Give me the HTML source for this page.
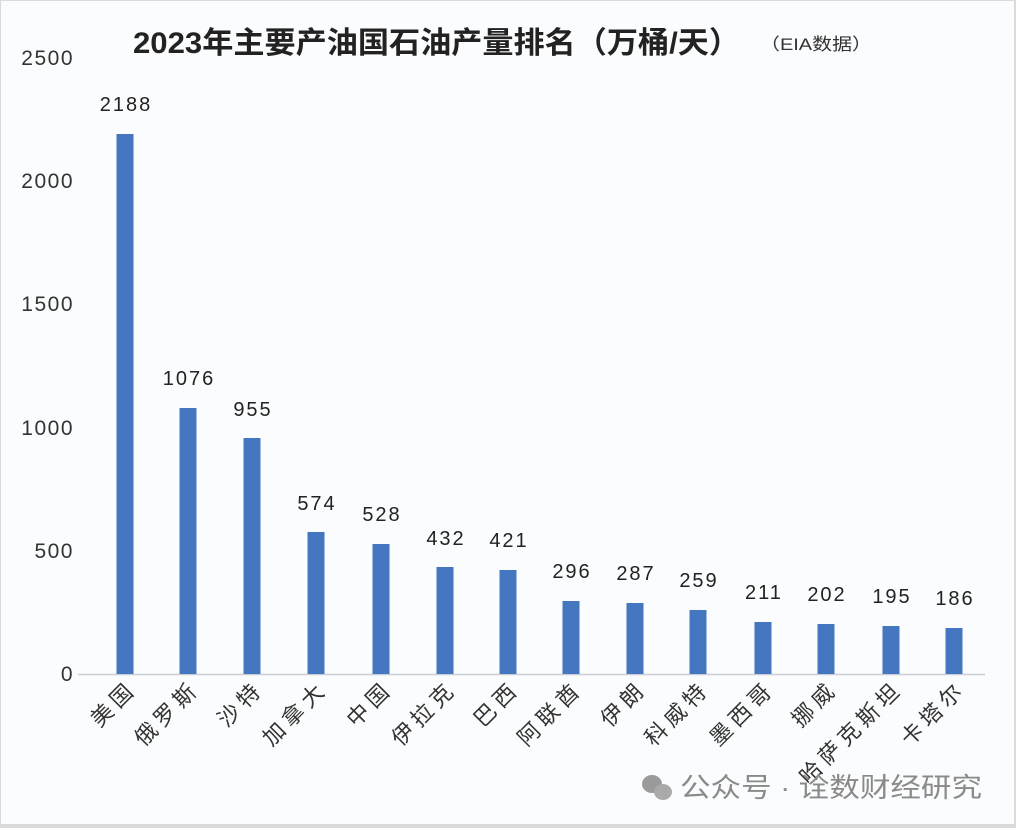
<!DOCTYPE html>
<html><head><meta charset="utf-8"><style>
html,body{margin:0;padding:0;background:#fff}
svg{display:block}
text{font-family:"Liberation Sans","Noto Sans CJK SC",sans-serif}
</style></head><body>
<svg width="1016" height="828" viewBox="0 0 1016 828" xmlns="http://www.w3.org/2000/svg">
<rect x="0" y="0" width="1016" height="828" fill="#d8dadc"/>
<rect x="1" y="1" width="1013" height="823" fill="#fbfcfd"/>
<text x="133" y="53" font-size="30" font-weight="bold" fill="#222" textLength="607" lengthAdjust="spacingAndGlyphs">2023年主要产油国石油产量排名（万桶/天）</text>
<text x="760" y="50" font-size="17" fill="#333" textLength="112" lengthAdjust="spacingAndGlyphs">（EIA数据）</text>
<g font-size="21" fill="#333" text-anchor="end" letter-spacing="1.5">
<text x="74" y="65">2500</text>
<text x="74" y="188">2000</text>
<text x="74" y="311">1500</text>
<text x="74" y="435">1000</text>
<text x="74" y="558">500</text>
<text x="74" y="681">0</text>
</g>
<line x1="78" y1="674.5" x2="985" y2="674.5" stroke="#c9ced6" stroke-width="1.5"/>
<g fill="#4576c0">
<rect x="116.5" y="134" width="17" height="540"/>
<rect x="179.5" y="408" width="17" height="266"/>
<rect x="243.5" y="438" width="17" height="236"/>
<rect x="307.5" y="532" width="17" height="142"/>
<rect x="372.5" y="544" width="17" height="130"/>
<rect x="436.5" y="567" width="17" height="107"/>
<rect x="499.5" y="570" width="17" height="104"/>
<rect x="562.5" y="601" width="17" height="73"/>
<rect x="626.5" y="603" width="17" height="71"/>
<rect x="689.5" y="610" width="17" height="64"/>
<rect x="754.5" y="622" width="17" height="52"/>
<rect x="817.5" y="624" width="17" height="50"/>
<rect x="882.5" y="626" width="17" height="48"/>
<rect x="945.5" y="628" width="17" height="46"/>
</g>
<g font-size="20" fill="#222" text-anchor="middle" letter-spacing="2">
<text x="126" y="111">2188</text>
<text x="189" y="385">1076</text>
<text x="253" y="416">955</text>
<text x="317" y="510">574</text>
<text x="382" y="521">528</text>
<text x="446" y="545">432</text>
<text x="509" y="547">421</text>
<text x="572" y="578">296</text>
<text x="636" y="580">287</text>
<text x="699" y="587">259</text>
<text x="764" y="599">211</text>
<text x="827" y="601">202</text>
<text x="892" y="603">195</text>
<text x="955" y="605">186</text>
</g>
<g font-size="22" fill="#333" text-anchor="end" letter-spacing="5">
<text transform="translate(138,690) rotate(-45)">美国</text>
<text transform="translate(201,690) rotate(-45)">俄罗斯</text>
<text transform="translate(265,690) rotate(-45)">沙特</text>
<text transform="translate(329,690) rotate(-45)">加拿大</text>
<text transform="translate(394,690) rotate(-45)">中国</text>
<text transform="translate(458,690) rotate(-45)">伊拉克</text>
<text transform="translate(521,690) rotate(-45)">巴西</text>
<text transform="translate(584,690) rotate(-45)">阿联酋</text>
<text transform="translate(648,690) rotate(-45)">伊朗</text>
<text transform="translate(711,690) rotate(-45)">科威特</text>
<text transform="translate(776,690) rotate(-45)">墨西哥</text>
<text transform="translate(839,690) rotate(-45)">挪威</text>
<text transform="translate(904,690) rotate(-45)">哈萨克斯坦</text>
<text transform="translate(967,690) rotate(-45)">卡塔尔</text>
</g>
<g fill="#9a9a9a">
<ellipse cx="652" cy="784" rx="10" ry="9"/>
<ellipse cx="663" cy="792" rx="9" ry="8" fill="#aaa"/>
</g>
<text x="680" y="797" font-size="27" fill="#8a8a8a" textLength="302" lengthAdjust="spacingAndGlyphs">公众号 · 诠数财经研究</text>
</svg>
</body></html>
